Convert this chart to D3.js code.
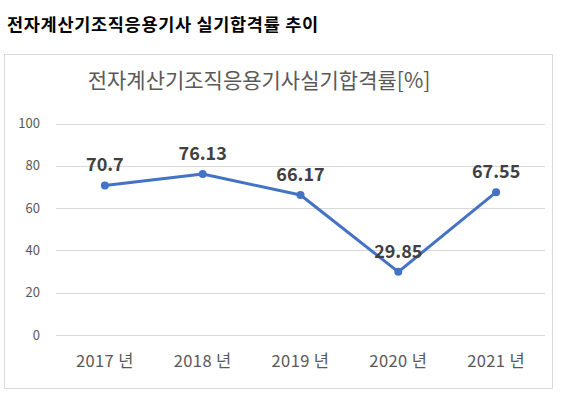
<!DOCTYPE html>
<html>
<head>
<meta charset="utf-8">
<script src="https://cdn.jsdelivr.net/npm/d3@7"></script>
<style>
  body { margin: 0; background: #fff; }
  svg text { font-family: "Noto Sans CJK KR", "Noto Sans", sans-serif; }
</style>
</head>
<body>
<svg id="chart" width="562" height="399"></svg>
<script>
// data
const years = ["2017 년", "2018 년", "2019 년", "2020 년", "2021 년"];
const passRates = [70.7, 76.13, 66.17, 29.85, 67.55];
const yTicks = [0, 20, 40, 60, 80, 100];

const pageTitle = "전자계산기조직응용기사 실기합격률 추이";
const chartTitle = "전자계산기조직응용기사실기합격률[%]";

const lineColor = "#4472C4";

const svg = d3.select("#chart");

// page heading
svg.append("text")
    .attr("x", 7)
    .attr("y", 31)
    .attr("font-size", 17.5)
    .attr("font-weight", "bold")
    .attr("letter-spacing", 0.7)
    .attr("fill", "#000")
    .text(pageTitle);

// chart box
svg.append("rect")
    .attr("x", 4.5)
    .attr("y", 54.5)
    .attr("width", 548)
    .attr("height", 334)
    .attr("fill", "#fff")
    .attr("stroke", "#d9d9d9");

svg.append("text")
    .attr("x", 259)
    .attr("y", 88)
    .attr("text-anchor", "middle")
    .attr("font-size", 21)
    .attr("fill", "#595959")
    .text(chartTitle);

// scales
const xScale = d3.scaleBand()
    .domain(years)
    .range([56, 545]);

const yScale = d3.scaleLinear()
    .domain([0, 100])
    .range([335, 123.5]);

// gridlines
svg.append("g")
    .selectAll("line")
    .data(yTicks)
    .join("line")
    .attr("x1", 56)
    .attr("x2", 545)
    .attr("y1", d => Math.round(yScale(d)) + 0.5)
    .attr("y2", d => Math.round(yScale(d)) + 0.5)
    .attr("stroke", "#d9d9d9")
    .attr("stroke-width", 1);

// y axis labels
const yAxis = d3.axisLeft(yScale)
    .tickValues(yTicks)
    .tickSize(0)
    .tickPadding(0);

svg.append("g")
    .attr("transform", "translate(40,0)")
    .call(yAxis)
    .call(g => g.select(".domain").remove())
    .call(g => g.selectAll("text")
        .attr("font-size", 13)
        .attr("fill", "#595959")
        .attr("font-family", "\"Noto Sans CJK KR\", sans-serif"));

// x axis labels
const xAxis = d3.axisBottom(xScale)
    .tickSize(0)
    .tickPadding(0);

svg.append("g")
    .attr("transform", "translate(0,355)")
    .call(xAxis)
    .call(g => g.select(".domain").remove())
    .call(g => g.selectAll("text")
        .attr("font-size", 16.5)
        .attr("letter-spacing", 0.4)
        .attr("fill", "#595959")
        .attr("font-family", "\"Noto Sans CJK KR\", sans-serif"));

const cx = (d, i) => xScale(years[i]) + xScale.bandwidth() / 2;

// line
const line = d3.line()
    .x((d, i) => cx(d, i))
    .y(d => yScale(d));

svg.append("path")
    .datum(passRates)
    .attr("d", line)
    .attr("fill", "none")
    .attr("stroke", lineColor)
    .attr("stroke-width", 3)
    .attr("stroke-linejoin", "round");

// markers
svg.append("g")
    .selectAll("circle")
    .data(passRates)
    .join("circle")
    .attr("cx", cx)
    .attr("cy", d => yScale(d))
    .attr("r", 4)
    .attr("fill", lineColor);

// data labels
svg.append("g")
    .selectAll("text")
    .data(passRates)
    .join("text")
    .attr("x", cx)
    .attr("y", d => yScale(d) - 14)
    .attr("text-anchor", "middle")
    .attr("font-size", 18)
    .attr("font-weight", "bold")
    .attr("fill", "#404040")
    .text(d => d);
</script>
</body>
</html>
